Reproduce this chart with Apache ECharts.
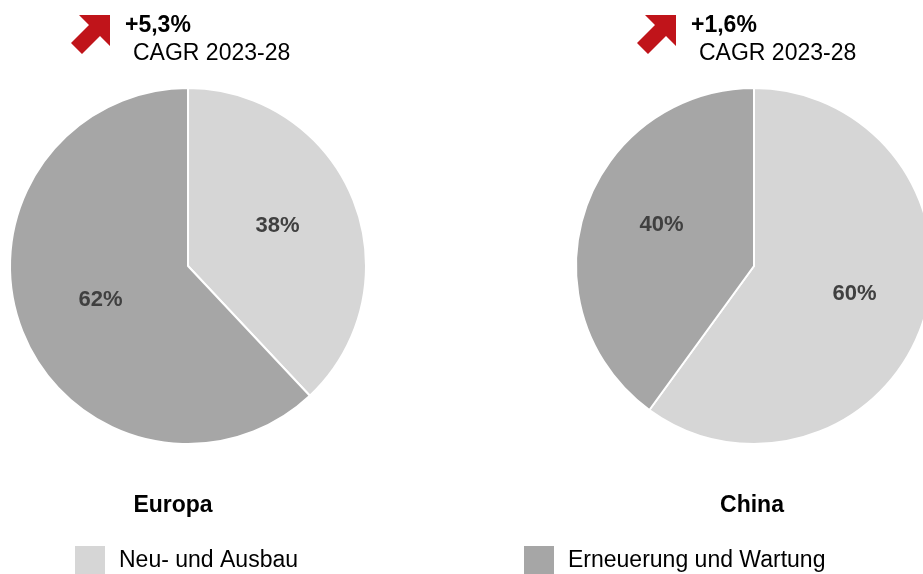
<!DOCTYPE html>
<html><head><meta charset="utf-8">
<script src="https://cdn.jsdelivr.net/npm/echarts@6/dist/echarts.min.js"></script>
<style>html,body{margin:0;padding:0;background:#fff}#c{width:923px;height:574px}</style>
</head><body><div id="c"></div>
<script>
const categories = ['Neu- und Ausbau', 'Erneuerung und Wartung'];
const regions = ['Europa', 'China'];
const europaValues = [38, 62];
const chinaValues = [60, 40];
const cagrLabels = ['+5,3%', '+1,6%'];
const cagrSub = 'CAGR 2023-28';
const colors = ['#d6d6d6', '#a6a6a6'];
const FONT = 'Liberation Sans, Arial, Helvetica, sans-serif';

const chart = echarts.init(document.getElementById('c'));

function arrow(x, y) {
  // x,y = tip (top-right)
  return {
    type: 'polygon',
    shape: { points: [[x, y], [x - 31, y], [x - 21, y + 10], [x - 39, y + 28], [x - 28, y + 39], [x - 10, y + 21], [x, y + 31]] },
    style: { fill: '#c0141a' }
  };
}

function pieSeries(name, values, center, offsets) {
  return {
    type: 'pie', name: name, center: center, radius: 178, startAngle: 90, clockwise: true,
    animation: false,
    itemStyle: { borderColor: '#fff', borderWidth: 2 },
    label: { position: 'inside', formatter: '{c}%', color: '#404040', fontSize: 22, fontWeight: 'bold', fontFamily: FONT },
    labelLine: { show: false },
    emphasis: { disabled: true },
    data: categories.map((c, i) => ({ name: c, value: values[i], itemStyle: { color: colors[i] }, label: { offset: offsets[i] } }))
  };
}

const titleStyle = { fontSize: 23, fontWeight: 'bold', color: '#000', fontFamily: FONT };
const legendBase = { itemWidth: 32, itemHeight: 32, icon: 'rect', selectedMode: false, padding: 0,
  textStyle: { fontSize: 23, color: '#000', fontFamily: FONT, padding: [0, 0, 0, 8] } };

chart.setOption({
  animation: false,
  color: colors,
  title: [
    { text: regions[0], left: 173, top: 494, textAlign: 'center', padding: 0, textStyle: titleStyle },
    { text: regions[1], left: 752, top: 494, textAlign: 'center', padding: 0, textStyle: titleStyle }
  ],
  legend: [
    Object.assign({ data: [categories[0]], left: 73, top: 544 }, legendBase),
    Object.assign({ data: [categories[1]], left: 522, top: 544 }, legendBase)
  ],
  graphic: [
    arrow(110, 15),
    { type: 'text', left: 125, top: 14, style: { text: cagrLabels[0], fontSize: 23, fontWeight: 'bold', fill: '#000', fontFamily: FONT } },
    { type: 'text', left: 133, top: 42, style: { text: cagrSub, fontSize: 23, fill: '#000', fontFamily: FONT } },
    arrow(676, 15),
    { type: 'text', left: 691, top: 14, style: { text: cagrLabels[1], fontSize: 23, fontWeight: 'bold', fill: '#000', fontFamily: FONT } },
    { type: 'text', left: 699, top: 42, style: { text: cagrSub, fontSize: 23, fill: '#000', fontFamily: FONT } }
  ],
  series: [
    pieSeries(regions[0], europaValues, [188, 266], [[4, -6], [-2, 0]]),
    pieSeries(regions[1], chinaValues, [754, 266], [[13, 0], [-5, -13]])
  ]
});
</script>
</body></html>
